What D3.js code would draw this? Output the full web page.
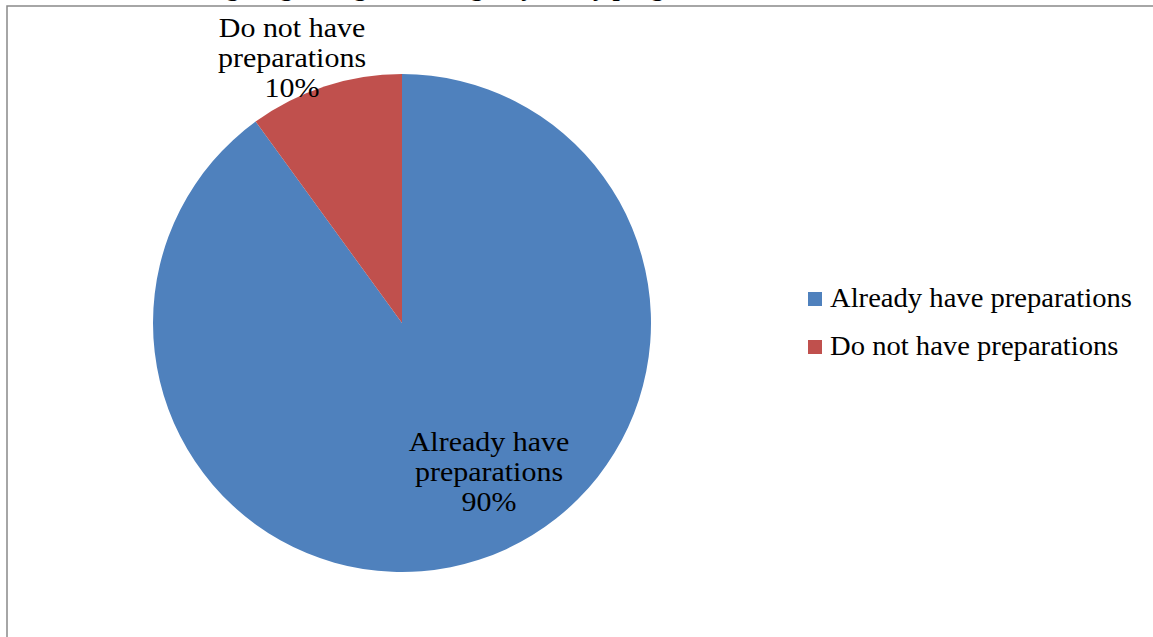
<!DOCTYPE html>
<html>
<head>
<meta charset="utf-8">
<script src="https://cdn.jsdelivr.net/npm/d3@7"></script>
<style>
  html, body { margin: 0; padding: 0; background: #fff; overflow: hidden; }
  svg { display: block; }
</style>
</head>
<body>
<svg id="chart" width="1153" height="637"></svg>
<script>
const categories = ["Already have preparations", "Do not have preparations"];
const values = [90, 10];
const labelLines = [["Already have", "preparations", "90%"], ["Do not have", "preparations", "10%"]];
const colors = ["#4F81BD", "#C0504D"];
const titleText = "Teachers' knowledge regarding the emergency-ready program";

const W = 1153, H = 637;
const svg = d3.select("#chart");
const font = "'Liberation Serif', 'DejaVu Serif', serif";

function stretch(sel, factor) {
  sel.each(function () {
    const len = this.getComputedTextLength();
    d3.select(this).attr("textLength", len * factor).attr("lengthAdjust", "spacingAndGlyphs");
  });
}

// title (cut off at top, as in the source image)
svg.append("text")
  .attr("x", 20).attr("y", -4)
  .attr("font-family", font).attr("font-weight", "bold").attr("font-size", 26)
  .attr("fill", "#000")
  .text(titleText);

// chart border
svg.append("rect")
  .attr("x", 7).attr("y", 6)
  .attr("width", W + 20).attr("height", H + 20)
  .attr("fill", "#fff")
  .attr("stroke", "#898989").attr("stroke-width", 1.5);

const cx = 402, cy = 323, r = 249;
const pie = d3.pie().sort(null).value(d => d)(values);
const arc = d3.arc().innerRadius(0).outerRadius(r);

const g = svg.append("g").attr("transform", `translate(${cx},${cy})`);
g.selectAll("path").data(pie).join("path")
  .attr("d", arc)
  .attr("fill", (d, i) => colors[i]);

// data labels
const labelPos = [[489 - cx, 451 - cy], [292 - cx, 37 - cy]];
const fs = 27, lh = 30;
pie.forEach((d, i) => {
  labelLines[i].forEach((ln, k) => {
    const t = g.append("text")
      .attr("font-family", font).attr("font-size", fs)
      .attr("text-anchor", "middle").attr("fill", "#000")
      .attr("x", labelPos[i][0])
      .attr("y", labelPos[i][1] + k * lh)
      .text(ln);
    stretch(t, 1.11);
  });
});

// legend
const lg = svg.append("g").attr("transform", "translate(808,292)");
categories.forEach((c, i) => {
  const row = lg.append("g").attr("transform", `translate(0,${i * 48})`);
  row.append("rect").attr("width", 14).attr("height", 14).attr("fill", colors[i]);
  const t = row.append("text")
    .attr("x", 22).attr("y", 15)
    .attr("font-family", font).attr("font-size", fs)
    .attr("fill", "#000")
    .text(c);
  stretch(t, 1.06);
});
</script>
</body>
</html>
